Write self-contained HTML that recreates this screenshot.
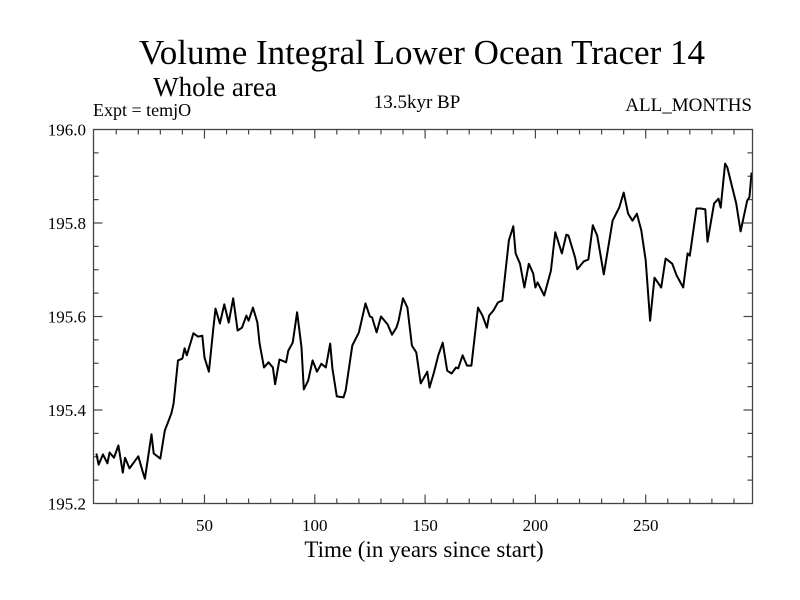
<!DOCTYPE html>
<html><head><meta charset="utf-8"><style>
body{margin:0;background:#fff}
svg{display:block;font-family:"Liberation Serif",serif}
</style></head><body>
<svg id="chart" width="800" height="600" xmlns="http://www.w3.org/2000/svg">
<text x="422" y="64" font-size="35" text-anchor="middle">Volume Integral Lower Ocean Tracer 14</text>
<text x="215" y="96" font-size="27" text-anchor="middle">Whole area</text>
<text x="93" y="116" font-size="18">Expt = temjO</text>
<text x="417" y="108" font-size="19" text-anchor="middle">13.5kyr BP</text>
<text x="752" y="111" font-size="19" text-anchor="end">ALL_MONTHS</text>
<text x="424" y="557" font-size="23" text-anchor="middle">Time (in years since start)</text>
<g id="axes"></g>
<path id="line" fill="none" stroke="#000" stroke-width="2" stroke-linejoin="round"/>
<rect x="93.5" y="129.5" width="659" height="374" fill="none" stroke="#444" stroke-width="1.3"/>
</svg>
<script>
const years=[1,2,4,6,7,9,11,13,14,16,20,22,23,26,27,30,32,35,36,38,40,41,42,45,47,49,50,52,54,55,57,59,61,63,65,67,69,70,72,74,75,77,79,81,82,84,87,88,90,92,94,95,97,99,101,103,105,107,108,110,113,114,117,120,123,125,126,128,130,133,135,137,138,140,142,144,146,148,151,152,154,156,158,160,162,164,165,167,169,171,174,176,178,179,181,183,185,188,190,191,193,195,197,199,200,201,204,207,209,212,214,215,218,219,222,224,226,228,231,235,238,240,242,244,246,248,250,252,254,257,259,262,264,267,269,270,273,275,277,278,281,283,284,286,287,291,293,296,297,298];
const values=[195.307,195.283,195.305,195.286,195.309,195.298,195.324,195.266,195.298,195.275,195.301,195.268,195.253,195.348,195.307,195.296,195.356,195.393,195.414,195.506,195.510,195.532,195.517,195.564,195.557,195.559,195.512,195.482,195.574,195.617,195.585,195.626,195.587,195.639,195.570,195.576,195.602,195.591,195.619,195.587,195.542,195.491,195.502,195.491,195.455,195.508,195.502,195.527,195.544,195.609,195.534,195.444,195.463,195.506,195.482,195.499,195.491,195.542,195.489,195.429,195.427,195.442,195.538,195.566,195.628,195.600,195.598,195.566,195.600,195.583,195.561,195.576,195.591,195.639,195.619,195.538,195.523,195.457,195.482,195.448,195.480,195.517,195.544,195.484,195.478,195.491,195.489,195.517,195.495,195.495,195.619,195.602,195.576,195.602,195.613,195.630,195.634,195.763,195.793,195.735,195.713,195.662,195.713,195.692,195.662,195.673,195.645,195.698,195.780,195.735,195.775,195.773,195.726,195.701,195.718,195.722,195.795,195.773,195.690,195.805,195.833,195.865,195.820,195.805,195.820,195.784,195.720,195.591,195.683,195.662,195.724,195.713,195.688,195.662,195.735,195.730,195.831,195.831,195.829,195.760,195.842,195.852,195.833,195.927,195.919,195.842,195.782,195.848,195.855,195.908];
const xTickLabels=[50,100,150,200,250];
const yTickLabels=["195.2","195.4","195.6","195.8","196.0"];
const X0=93.5,X1=752.5,Y0=503.5,Y1=129.5,XMIN=-0.3,XMAX=298.4,YMIN=195.2,YMAX=196.0;
const xs=v=>X0+(v-XMIN)/(XMAX-XMIN)*(X1-X0);
const ys=v=>Y0-(v-YMIN)/(YMAX-YMIN)*(Y0-Y1);
const NS="http://www.w3.org/2000/svg";
const axes=document.getElementById('axes');
function ln(x1,y1,x2,y2){const l=document.createElementNS(NS,'line');l.setAttribute('x1',x1);l.setAttribute('y1',y1);l.setAttribute('x2',x2);l.setAttribute('y2',y2);l.setAttribute('stroke','#444');l.setAttribute('stroke-width','1.2');axes.appendChild(l);return l;}
for(let t=10;t<XMAX;t+=10){const L=t%50===0?9:5;
 let a=ln(xs(t),Y0,xs(t),Y0-L);
 
 
 let b=ln(xs(t),Y1,xs(t),Y1+L);
 
 }
for(let v=YMIN+0.05;v<YMAX-0.001;v+=0.05){const maj=Math.abs(Math.round(v*5)-v*5)<0.01;const L=maj?9:5;
 let a=ln(X0,ys(v),X0+L,ys(v));
 
 
 let b=ln(X1,ys(v),X1-L,ys(v));
 
 }
xTickLabels.forEach(t=>{const e=document.createElementNS(NS,'text');e.setAttribute('x',xs(t));e.setAttribute('y',531);e.setAttribute('font-size','17');e.setAttribute('text-anchor','middle');e.textContent=t;
 
 
 axes.appendChild(e);});
yTickLabels.forEach(t=>{const e=document.createElementNS(NS,'text');e.setAttribute('x',86);e.setAttribute('y',ys(parseFloat(t))+6);e.setAttribute('font-size','17');e.setAttribute('text-anchor','end');e.textContent=t;
 
 
 axes.appendChild(e);});
document.getElementById('line').setAttribute('d',years.map((y,i)=>(i?'L':'M')+xs(y).toFixed(1)+','+ys(values[i]).toFixed(1)).join(''));
</script>
</body></html>
